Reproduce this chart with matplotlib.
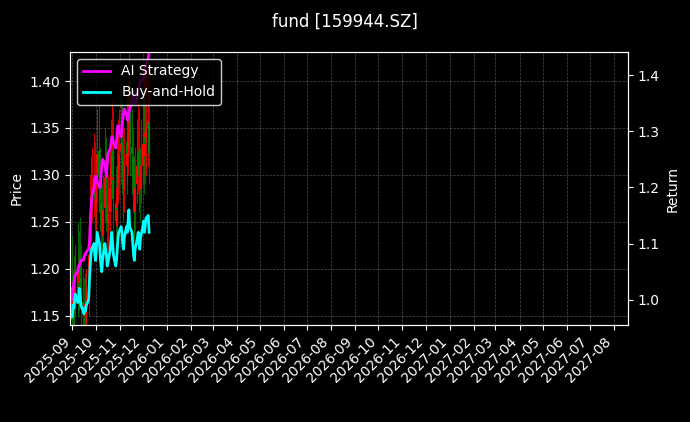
import matplotlib
matplotlib.use("Agg")
import matplotlib.pyplot as plt
import matplotlib.dates as mdates
import pandas as pd
import numpy as np

open_ = [1.180,1.150,1.175,1.160,1.185,1.195,1.170,1.185,1.205,1.190,1.165,1.160,
1.150,1.165,1.150,1.170,1.185,1.220,1.245,1.280,1.280,1.300,1.270,1.260,
1.290,1.325,1.295,1.270,1.255,1.235,1.265,1.300,1.285,1.270,1.250,1.260,
1.290,1.305,1.325,1.295,1.270,1.245,1.265,1.290,1.305,1.325,1.335,1.320,
1.295,1.285,1.310,1.335,1.320,1.345,1.365,1.330,1.320,1.300,1.270,1.260,
1.290,1.305,1.325,1.295,1.285,1.310,1.335,1.340,1.320,1.335,1.350,1.355]
close = [1.145,1.168,1.162,1.180,1.192,1.174,1.180,1.204,1.192,1.168,1.156,1.150,
1.162,1.156,1.168,1.180,1.215,1.251,1.274,1.286,1.298,1.274,1.263,1.286,
1.322,1.298,1.274,1.251,1.239,1.263,1.298,1.286,1.274,1.251,1.257,1.286,
1.310,1.322,1.298,1.274,1.251,1.263,1.286,1.310,1.322,1.333,1.322,1.298,
1.286,1.310,1.333,1.322,1.345,1.369,1.333,1.322,1.298,1.274,1.263,1.286,
1.310,1.322,1.298,1.286,1.310,1.333,1.345,1.322,1.333,1.351,1.357,1.322]
high = [1.235,1.200,1.215,1.210,1.225,1.250,1.215,1.240,1.255,1.225,1.200,1.190,
1.195,1.200,1.200,1.215,1.260,1.300,1.320,1.330,1.345,1.335,1.310,1.320,
1.370,1.375,1.330,1.310,1.290,1.300,1.350,1.340,1.320,1.310,1.300,1.330,
1.360,1.380,1.370,1.330,1.310,1.300,1.330,1.360,1.370,1.390,1.380,1.360,
1.330,1.350,1.390,1.380,1.400,1.430,1.400,1.370,1.350,1.320,1.310,1.330,
1.360,1.380,1.370,1.330,1.360,1.390,1.410,1.390,1.380,1.410,1.420,1.390]
low = [1.140,1.130,1.140,1.150,1.160,1.150,1.155,1.170,1.165,1.140,1.130,1.125,
1.130,1.135,1.140,1.150,1.170,1.200,1.230,1.250,1.255,1.240,1.230,1.240,
1.270,1.260,1.240,1.220,1.200,1.220,1.250,1.250,1.240,1.220,1.220,1.240,
1.260,1.280,1.260,1.240,1.220,1.220,1.250,1.270,1.280,1.290,1.280,1.260,
1.250,1.260,1.290,1.280,1.300,1.320,1.300,1.280,1.260,1.240,1.230,1.240,
1.270,1.280,1.260,1.250,1.270,1.290,1.300,1.280,1.290,1.300,1.310,1.290]
ai_return = [1.00,1.02,1.03,1.04,1.045,1.05,1.06,1.06,1.065,1.07,1.07,1.075,
1.08,1.08,1.085,1.09,1.10,1.13,1.16,1.18,1.20,1.21,1.22,1.22,
1.21,1.20,1.20,1.22,1.24,1.25,1.24,1.23,1.22,1.24,1.26,1.27,
1.28,1.29,1.29,1.28,1.27,1.28,1.30,1.31,1.30,1.29,1.31,1.32,
1.33,1.34,1.33,1.32,1.32,1.33,1.34,1.35,1.36,1.37,1.36,1.35,
1.36,1.37,1.38,1.38,1.39,1.39,1.40,1.40,1.41,1.42,1.43,1.44]
bh_return = [0.97,0.99,0.985,1.00,1.01,0.995,1.00,1.02,1.01,0.99,0.98,0.975,
0.985,0.98,0.99,1.00,1.03,1.06,1.08,1.09,1.10,1.08,1.07,1.09,
1.12,1.10,1.08,1.06,1.05,1.07,1.10,1.09,1.08,1.06,1.065,1.09,
1.11,1.12,1.10,1.08,1.06,1.07,1.09,1.11,1.12,1.13,1.12,1.10,
1.09,1.11,1.13,1.12,1.14,1.16,1.13,1.12,1.10,1.08,1.07,1.09,
1.11,1.12,1.10,1.09,1.11,1.13,1.14,1.12,1.13,1.145,1.15,1.12]

dates = pd.bdate_range("2025-09-01", periods=len(close))
o = np.array(open_); c = np.array(close)

plt.rcParams['font.family'] = ['DejaVu Sans']
fig = plt.figure(figsize=(6.9, 4.22), dpi=100, facecolor='black')
ax = fig.add_axes([70/690, 1-325/422, 558/690, 273/422])
ax.set_facecolor('black')
for sp in ax.spines.values():
    sp.set_color('white')
colors = np.where(c >= o, 'red', 'green')
ax.vlines(dates, low, high, colors=colors, linewidth=0.8, alpha=0.8)
ax.vlines(dates, np.minimum(o, c), np.maximum(o, c), colors=colors, linewidth=1.5)
ax.set_ylim(1.140, 1.431)
ax.set_ylabel("Price", color='white')
ax.tick_params(colors='white')
ax.grid(True, linestyle='--', color='gray', linewidth=0.5, alpha=0.6)
ax.set_xlim(pd.Timestamp("2025-08-29"), pd.Timestamp("2027-08-19"))
ax.xaxis.set_major_locator(mdates.MonthLocator())
ax.xaxis.set_major_formatter(mdates.DateFormatter('%Y-%m'))
plt.setp(ax.get_xticklabels(), rotation=45, ha='right')

ax2 = ax.twinx()
ax2.plot(dates, ai_return, color='magenta', linewidth=2, label='AI Strategy')
ax2.plot(dates, bh_return, color='cyan', linewidth=2, label='Buy-and-Hold')
ax2.set_ylim(0.955, 1.441)
ax2.set_ylabel("Return", color='white')
ax2.tick_params(colors='white')
for sp in ax2.spines.values():
    sp.set_color('white')
leg = ax2.legend(loc='upper left', facecolor='black', edgecolor='white')
for t in leg.get_texts():
    t.set_color('white')
fig.suptitle("fund [159944.SZ]", color='white', y=0.97)
fig.savefig("out.png", dpi=100, facecolor='black')
